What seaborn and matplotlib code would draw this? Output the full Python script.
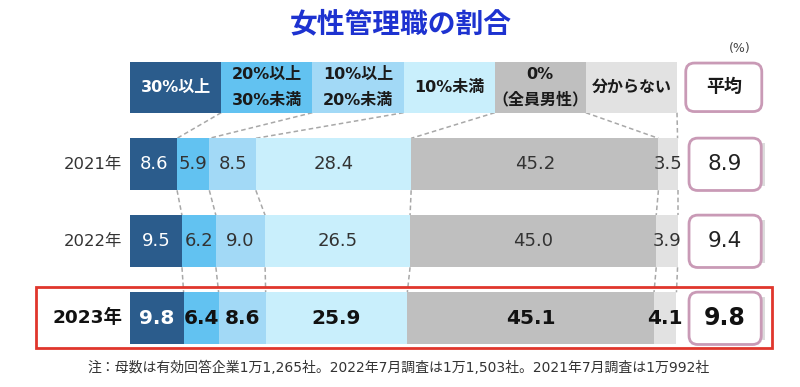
import numpy as np
import pandas as pd
import matplotlib.pyplot as plt
import seaborn as sns
from matplotlib.patches import FancyBboxPatch, Rectangle

sns.set_style("white")
plt.rcParams['font.family'] = ['DejaVu Sans', 'Noto Sans CJK JP']

# data
years = ['2021年', '2022年', '2023年']
over30 = [8.6, 9.5, 9.8]
from20to30 = [5.9, 6.2, 6.4]
from10to20 = [8.5, 9.0, 8.6]
under10 = [28.4, 26.5, 25.9]
zero_pct = [45.2, 45.0, 45.1]
unknown = [3.5, 3.9, 4.1]
average = [8.9, 9.4, 9.8]

header_lines = [['30%以上'], ['20%以上', '30%未満'], ['10%以上', '20%未満'],
                ['10%未満'], ['0%', '（全員男性）'], ['分からない']]
colors = ['#2b5c8c', '#62c2f1', '#a2d9f6', '#c9effc', '#bfbfbf', '#e2e2e2']

vals = np.array([over30, from20to30, from10to20, under10, zero_pct, unknown]).T
cum = vals.cumsum(axis=1)

fig = plt.figure(figsize=(8, 3.87), dpi=100)
ax = fig.add_axes([0, 0, 1, 1])

# stacked bars: draw cumulative totals from the widest down
bar_h = 0.675
for j in range(len(colors) - 1, -1, -1):
    df = pd.DataFrame({'year': years, 'value': cum[:, j]})
    sns.barplot(data=df, x='value', y='year', orient='h', color=colors[j],
                saturation=1, width=bar_h, errorbar=None, linewidth=0, ax=ax)

# header row
n = len(header_lines)
cell = 100 / n
for k, lines in enumerate(header_lines):
    ax.barh(-1, cell, left=k * cell, height=0.66, color=colors[k], linewidth=0)
    tc = 'white' if k == 0 else '#1a1a1a'
    if len(lines) == 1:
        ax.text(k * cell + cell / 2, -1, lines[0], ha='center', va='center',
                fontsize=11.5, fontweight='bold', color=tc)
    else:
        for dy, s in zip([-0.165, 0.165], lines):
            ax.text(k * cell + cell / 2, -1 + dy, s, ha='center', va='center',
                    fontsize=11.5, fontweight='bold', color=tc)

# dashed connectors
dash = dict(color='#a8a8a8', lw=1.1, linestyle=(0, (3, 2)), zorder=0.5)
head_b = [cell * (k + 1) for k in range(n)]
for k in range(n):
    ax.plot([head_b[k], cum[0, k]], [-1 + 0.33, -bar_h / 2], **dash)
for i in range(len(years) - 1):
    for k in range(n):
        ax.plot([cum[i, k], cum[i + 1, k]], [i + bar_h / 2, i + 1 - bar_h / 2], **dash)

# segment labels
for i, yr in enumerate(years):
    last = i == len(years) - 1
    for k in range(n):
        xc = cum[i, k] - vals[i, k] / 2
        tc = 'white' if k == 0 else ('#111111' if last else '#333333')
        ax.text(xc, i, f'{vals[i, k]:.1f}', ha='center', va='center',
                fontsize=14.5 if last else 13, fontweight='bold' if last else 'normal',
                color=tc)
    ax.text(-1.4, i, yr, ha='right', va='center',
            fontsize=13.3 if last else 11.8, fontweight='bold' if last else 'normal',
            color='#111111' if last else '#333333')

# average boxes
asp = 5.47 / 77
pink = '#c99ab6'
box = FancyBboxPatch((101.6, -1 - 0.315), 13.9, 0.63,
                     boxstyle='round,pad=0,rounding_size=1.6', mutation_aspect=asp,
                     fc='white', ec=pink, lw=2)
ax.add_patch(box)
ax.text(108.55, -1, '平均', ha='center', va='center', fontsize=13,
        fontweight='bold', color='#1a1a1a')
ax.text(111.5, -1.5, '(%)', ha='center', va='center', fontsize=9, color='#444444')
for i, a in enumerate(average):
    last = i == len(years) - 1
    ax.add_patch(Rectangle((114.0, i - 0.28), 2.0, 0.56, fc='#dcdcdc', lw=0))
    ax.add_patch(FancyBboxPatch((102.2, i - 0.34), 13.2, 0.68,
                                boxstyle='round,pad=0,rounding_size=1.6',
                                mutation_aspect=asp, fc='white', ec=pink, lw=2))
    ax.text(108.8, i, f'{a:.1f}', ha='center', va='center',
            fontsize=17 if last else 15.5, fontweight='bold' if last else 'normal',
            color='#111111' if last else '#222222')

# highlight box around latest year
ax.add_patch(Rectangle((-17.2, 1.59), 134.6, 0.795, fill=False, ec='#e0362c', lw=2))

ax.set_xlim(-130 / 5.47, 670 / 5.47)
ax.set_ylim((387 - 164.3) / 77, -164.3 / 77)
ax.axis('off')

fig.text(0.501, 0.937, '女性管理職の割合', ha='center', va='center', fontsize=20,
         fontweight='bold', color='#1d32d0')
fig.text(0.498, 0.050, '注：母数は有効回答企業1万1,265社。2022年7月調査は1万1,503社。2021年7月調査は1万992社',
         ha='center', va='center', fontsize=10, color='#333333')

plt.savefig('out.png', dpi=100)
